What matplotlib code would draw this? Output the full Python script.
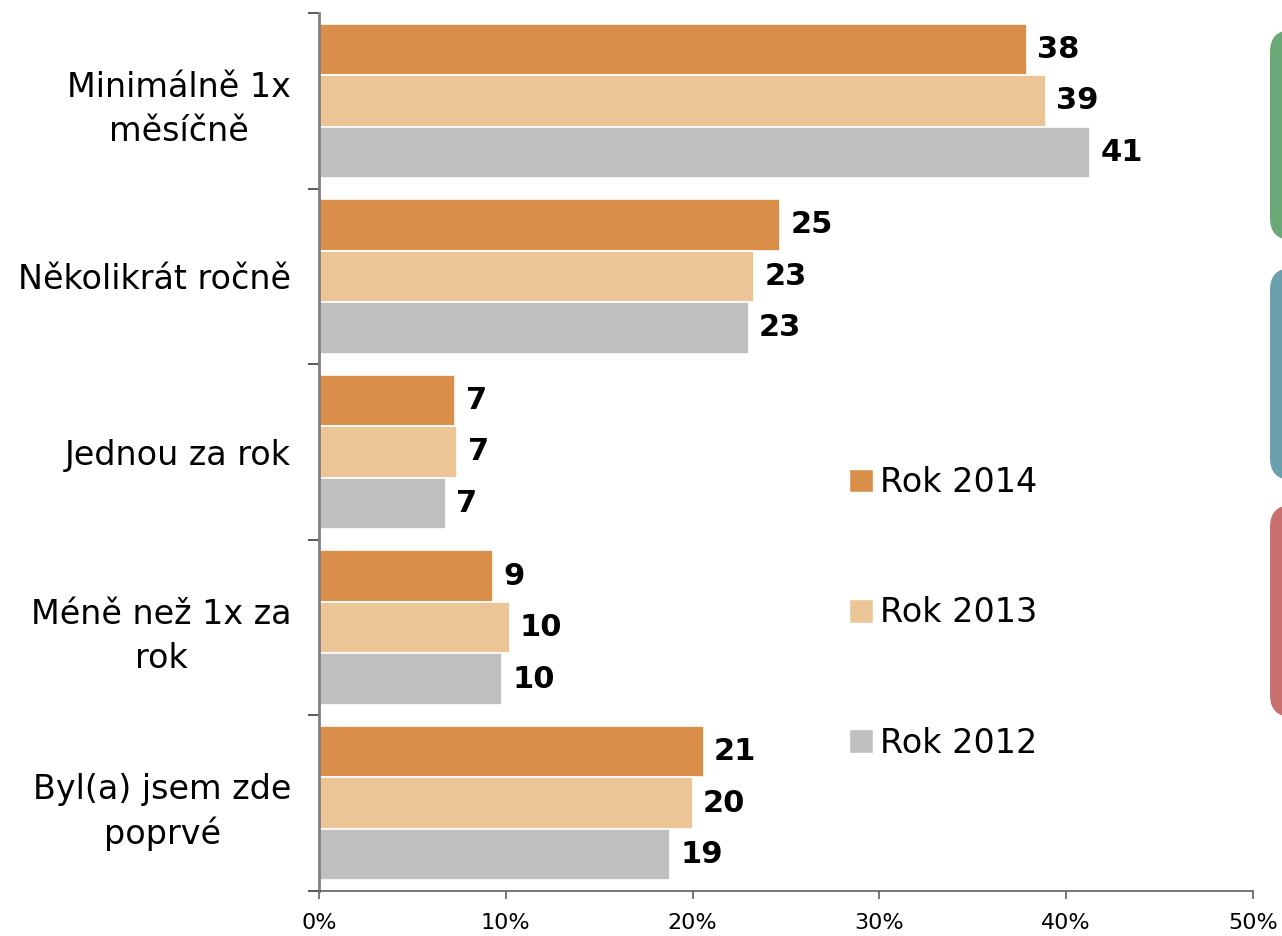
import numpy as np
import matplotlib.pyplot as plt
from matplotlib.patches import FancyBboxPatch, Patch

# data
categories = ['Minimálně 1x\nměsíčně', 'Několikrát ročně', 'Jednou za rok',
              'Méně než 1x za\nrok', 'Byl(a) jsem zde\npoprvé']
series = ['Rok 2014', 'Rok 2013', 'Rok 2012']
values_2014 = [37.9, 24.7, 7.3, 9.3, 20.6]
values_2013 = [38.9, 23.3, 7.4, 10.2, 20.0]
values_2012 = [41.3, 23.0, 6.8, 9.8, 18.8]
labels_2014 = [38, 25, 7, 9, 21]
labels_2013 = [39, 23, 7, 10, 20]
labels_2012 = [41, 23, 7, 10, 19]
colors = ['#D98F4A', '#EBC596', '#BFBFBF']

plt.rcParams['font.family'] = ['DejaVu Sans']

fig = plt.figure(figsize=(12.82, 9.36), dpi=100)

# side decorations (rounded boxes cut at the right edge)
bg = fig.add_axes([0, 0, 1, 1], zorder=-1)
bg.set_xlim(0, 1282)
bg.set_ylim(936, 0)
bg.axis('off')
for y0, y1, c in [(30, 240, '#6AA878'), (268, 480, '#6A9FAE'), (505, 717, '#C87070')]:
    bg.add_patch(FancyBboxPatch((1270, y0), 60, y1 - y0,
                                boxstyle='round,pad=0,rounding_size=22',
                                fc=c, ec='none'))

ax = fig.add_axes([319 / 1282, (936 - 891) / 936, (1253 - 319) / 1282, (891 - 13) / 936])

y = np.arange(len(categories))
h = 0.293
all_vals = [values_2014, values_2013, values_2012]
all_labels = [labels_2014, labels_2013, labels_2012]
for i, (vals, labs) in enumerate(zip(all_vals, all_labels)):
    pos = y + (i - 1) * h
    ax.barh(pos, vals, height=h, color=colors[i], edgecolor='white', linewidth=1.2,
            label=series[i])
    for p, v, l in zip(pos, vals, labs):
        ax.text(v + 0.55, p, str(l), va='center', ha='left',
                fontsize=22, fontweight='bold', color='black')

ax.set_xlim(0, 50)
ax.set_ylim(len(categories) - 0.5, -0.5)
ax.set_xticks([0, 10, 20, 30, 40, 50])
ax.set_xticklabels(['0%', '10%', '20%', '30%', '40%', '50%'], fontsize=16)
ax.set_yticks(y)
ax.set_yticklabels(categories, fontsize=24, linespacing=1.4, multialignment='center')
ax.set_yticks(np.arange(len(categories) + 1) - 0.5, minor=True)
ax.tick_params(axis='y', which='major', length=0, pad=20)
ax.tick_params(axis='y', which='minor', length=8, width=1.2, color='#404040', direction='out')
ax.tick_params(axis='x', length=6, width=1.2, color='#606060', direction='out', pad=10)
for s in ['top', 'right']:
    ax.spines[s].set_visible(False)
ax.spines['left'].set_color('#808080')
ax.spines['left'].set_linewidth(2)
ax.spines['bottom'].set_color('#606060')
ax.spines['bottom'].set_linewidth(1.2)

handles = [Patch(facecolor=c, edgecolor='white', label=s) for c, s in zip(colors, series)]
fig.legend(handles=handles, loc='center left', bbox_to_anchor=(849 / 1282, (936 - 613) / 936),
           frameon=False, fontsize=24, handlelength=0.72, handleheight=0.72,
           handletextpad=0.22, labelspacing=2.92, borderpad=0, borderaxespad=0)

fig.savefig('out.png', dpi=100)
